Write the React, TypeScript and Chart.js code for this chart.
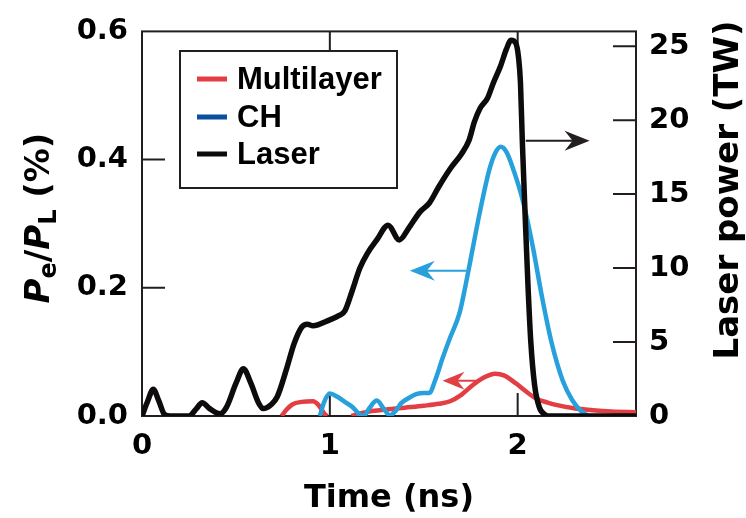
import React, { useEffect, useRef } from 'react';
import { Chart, registerables } from 'chart.js';

Chart.register(...registerables);

// ---- data ----
const laserTime = [0.0, 0.03, 0.06, 0.09, 0.12, 0.15, 0.25, 0.29, 0.32, 0.36, 0.415, 0.45, 0.5, 0.54, 0.58, 0.62, 0.645, 0.69, 0.72, 0.77, 0.81, 0.85, 0.88, 0.91, 1.0, 1.05, 1.08, 1.12, 1.16, 1.2, 1.25, 1.31, 1.37, 1.42, 1.48, 1.53, 1.58, 1.64, 1.7, 1.74, 1.77, 1.8, 1.84, 1.87, 1.91, 1.94, 1.965, 1.99, 2.005, 2.015, 2.025, 2.04, 2.055, 2.07, 2.09, 2.115, 2.145, 2.17, 2.63];
const laserPower = [0.0, 1.0, 1.8, 1.0, 0.1, 0.0, 0.0, 0.5, 0.9, 0.5, 0.15, 0.6, 2.2, 3.2, 2.2, 0.9, 0.5, 0.8, 1.3, 3.2, 4.9, 6.0, 6.2, 6.1, 6.5, 6.8, 7.1, 8.5, 10.0, 11.0, 11.9, 12.9, 11.9, 12.7, 13.8, 14.4, 15.5, 16.7, 17.7, 18.6, 19.9, 20.8, 21.5, 22.5, 23.7, 24.8, 25.4, 25.2, 24.2, 22.5, 18.5, 13.5, 8.8, 5.0, 2.1, 0.6, 0.1, 0.0, 0.0];

const chTime = [0.947, 0.97, 1.0, 1.04, 1.08, 1.12, 1.16, 1.18, 1.21, 1.25, 1.29, 1.32, 1.35, 1.38, 1.42, 1.46, 1.5, 1.53, 1.56, 1.6, 1.64, 1.69, 1.72, 1.75, 1.8, 1.85, 1.88, 1.91, 1.94, 1.98, 2.03, 2.08, 2.13, 2.18, 2.24, 2.29, 2.34, 2.38];
const chValue = [0.0, 0.022, 0.035, 0.03, 0.022, 0.014, 0.002, 0.0, 0.012, 0.024, 0.01, 0.001, 0.008, 0.02, 0.028, 0.034, 0.036, 0.036, 0.055, 0.09, 0.122, 0.16, 0.2, 0.245, 0.32, 0.385, 0.41, 0.42, 0.412, 0.382, 0.333, 0.265, 0.185, 0.115, 0.055, 0.025, 0.007, 0.0];

const mlTime = [0.743, 0.77, 0.8, 0.85, 0.91, 0.94, 0.97, 0.985, 1.05, 1.115, 1.16, 1.21, 1.3, 1.4, 1.5, 1.58, 1.64, 1.7, 1.76, 1.82, 1.88, 1.93, 1.99, 2.05, 2.1, 2.16, 2.21, 2.3, 2.4, 2.5, 2.63];
const mlValue = [0.0, 0.01, 0.018, 0.022, 0.023, 0.017, 0.004, 0.0, null, 0.0, 0.004, 0.007, 0.01, 0.013, 0.016, 0.019, 0.023, 0.033, 0.048, 0.06, 0.066, 0.063, 0.051, 0.037, 0.027, 0.021, 0.017, 0.012, 0.009, 0.007, 0.006];

const xTicks = [0, 1, 2];
const leftTicks = [0, 0.2, 0.4, 0.6];
const rightTicks = [0, 5, 10, 15, 20, 25];

const legendLabels = ['Multilayer', 'CH', 'Laser'];

// arrows pointing each curve to its axis
const arrowAxis = ['y1', 'y', 'y'];
const arrowFrom = [2.043, 1.728, 1.79];
const arrowTo = [2.383, 1.426, 1.6];
const arrowLevel = [18.6, 0.2265, 0.055];

// ---- styles ----
const RED = '#e23e43';
const BLUE = '#27a0dc';
const LEGEND_BLUE = '#0b4f9f';
const BLACK = '#0d0b0c';
const AXIS = '#231f20';
const legendColors = [RED, LEGEND_BLUE, BLACK];
const arrowColors = [AXIS, BLUE, RED];
const TICK_FONT = 'DejaVu Sans';

function drawArrow(ctx: CanvasRenderingContext2D, x1: number, x2: number, y: number, color: string, len: number, half: number) {
  const dir = x2 > x1 ? 1 : -1;
  ctx.save();
  ctx.strokeStyle = color;
  ctx.fillStyle = color;
  ctx.lineWidth = 2;
  ctx.beginPath();
  ctx.moveTo(x1, y);
  ctx.lineTo(x2 - dir * len * 0.6, y);
  ctx.stroke();
  ctx.beginPath();
  ctx.moveTo(x2, y);
  ctx.lineTo(x2 - dir * len, y - half);
  ctx.lineTo(x2 - dir * len * 0.68, y);
  ctx.lineTo(x2 - dir * len, y + half);
  ctx.closePath();
  ctx.fill();
  ctx.restore();
}

const framePlugin = {
  id: 'frame',
  beforeDatasetsDraw(chart: any) {
    const { ctx, chartArea: a, scales } = chart;
    const T = 23;
    ctx.save();
    ctx.strokeStyle = AXIS;
    ctx.lineWidth = 2;
    ctx.beginPath();
    leftTicks.forEach((v) => {
      if (v > scales.y.min && v < scales.y.max) {
        const y = scales.y.getPixelForValue(v);
        ctx.moveTo(a.left, y);
        ctx.lineTo(a.left + T, y);
      }
    });
    rightTicks.forEach((v) => {
      if (v > scales.y1.min && v < scales.y1.max) {
        const y = scales.y1.getPixelForValue(v);
        ctx.moveTo(a.right, y);
        ctx.lineTo(a.right - T, y);
      }
    });
    xTicks.forEach((v) => {
      if (v > scales.x.min && v < scales.x.max) {
        const x = scales.x.getPixelForValue(v);
        ctx.moveTo(x, a.bottom);
        ctx.lineTo(x, a.bottom - T);
        ctx.moveTo(x, a.top);
        ctx.lineTo(x, a.top + T);
      }
    });
    ctx.stroke();
    ctx.strokeRect(a.left, a.top, a.right - a.left, a.bottom - a.top);
    ctx.restore();
  },
  afterDatasetsDraw(chart: any) {
    const { ctx, scales } = chart;
    // arrows
    arrowFrom.forEach((f, i) => {
      const ys = scales[arrowAxis[i]];
      const y = ys.getPixelForValue(arrowLevel[i]);
      const x1 = scales.x.getPixelForValue(f);
      const x2 = scales.x.getPixelForValue(arrowTo[i]);
      const small = i === 2;
      drawArrow(ctx, x1, x2, y, arrowColors[i], small ? 22 : 25, small ? 9 : 10);
    });

    // legend box
    ctx.save();
    ctx.fillStyle = '#ffffff';
    ctx.fillRect(180, 51, 217, 137);
    ctx.strokeStyle = AXIS;
    ctx.lineWidth = 2;
    ctx.strokeRect(180, 51, 217, 137);
    const rows = [79, 117, 154];
    ctx.font = 'bold 31px "Liberation Sans", Arial, sans-serif';
    ctx.textBaseline = 'middle';
    ctx.textAlign = 'left';
    legendLabels.forEach((lab, i) => {
      ctx.strokeStyle = legendColors[i];
      ctx.lineWidth = 5;
      ctx.beginPath();
      ctx.moveTo(197, rows[i]);
      ctx.lineTo(227, rows[i]);
      ctx.stroke();
      ctx.fillStyle = '#000';
      ctx.fillText(lab, 237, rows[i] + 1);
    });
    ctx.restore();

    // left axis title: Pe/PL (%)
    const segs = [
      { t: 'P', it: true, sub: false },
      { t: 'e', it: false, sub: true },
      { t: '/', it: false, sub: false },
      { t: 'P', it: true, sub: false },
      { t: 'L', it: false, sub: true },
      { t: ' (%)', it: false, sub: false },
    ];
    const fontOf = (s: any) => `${s.it ? 'italic ' : ''}bold ${s.sub ? 24 : 34}px "${TICK_FONT}"`;
    ctx.save();
    ctx.translate(49, 218);
    ctx.rotate(-Math.PI / 2);
    ctx.fillStyle = '#000';
    ctx.textBaseline = 'alphabetic';
    ctx.textAlign = 'left';
    let total = 0;
    segs.forEach((s) => {
      ctx.font = fontOf(s);
      total += ctx.measureText(s.t).width;
    });
    let u = -total / 2;
    segs.forEach((s) => {
      ctx.font = fontOf(s);
      ctx.fillText(s.t, u, s.sub ? 7 : 0);
      u += ctx.measureText(s.t).width;
    });
    ctx.restore();

    // right axis title
    ctx.save();
    ctx.translate(738, 190);
    ctx.rotate(-Math.PI / 2);
    ctx.fillStyle = '#000';
    ctx.font = `bold 34px "${TICK_FONT}"`;
    ctx.textAlign = 'center';
    ctx.textBaseline = 'alphabetic';
    ctx.fillText('Laser power (TW)', 0, 0);
    ctx.restore();
  },
};

export default function App() {
  const ref = useRef<HTMLCanvasElement | null>(null);
  useEffect(() => {
    document.body.style.margin = '0';
    const canvas = ref.current;
    if (!canvas) return;
    const tickFont = { family: TICK_FONT, size: 29, weight: 'bold' as const };
    const chart = new Chart(canvas, {
      type: 'line',
      data: {
        datasets: [
          {
            label: 'Laser',
            data: laserTime.map((t, i) => ({ x: t, y: laserPower[i] })),
            yAxisID: 'y1',
            borderColor: BLACK,
            borderWidth: 5.5,
            pointRadius: 0,
            cubicInterpolationMode: 'monotone',
            fill: false,
          },
          {
            label: 'CH',
            data: chTime.map((t, i) => ({ x: t, y: chValue[i] })),
            yAxisID: 'y',
            borderColor: BLUE,
            borderWidth: 4.5,
            pointRadius: 0,
            cubicInterpolationMode: 'monotone',
            fill: false,
          },
          {
            label: 'Multilayer',
            data: mlTime.map((t, i) => ({ x: t, y: mlValue[i] as any })),
            yAxisID: 'y',
            borderColor: RED,
            borderWidth: 4.5,
            pointRadius: 0,
            cubicInterpolationMode: 'monotone',
            spanGaps: false,
            fill: false,
          },
        ],
      },
      options: {
        responsive: false,
        animation: false,
        devicePixelRatio: 1,
        layout: { padding: { top: 23, left: 0, right: 0, bottom: 0 } },
        plugins: { legend: { display: false }, tooltip: { enabled: false } },
        scales: {
          x: {
            type: 'linear',
            min: 0,
            max: 2.63,
            grid: { display: false, drawTicks: false },
            border: { display: false },
            ticks: { font: tickFont, color: '#000', padding: 13, maxRotation: 0, autoSkip: false, callback: (v: any) => String(v) },
            afterBuildTicks: (s: any) => { s.ticks = xTicks.map((v) => ({ value: v })); },
            afterFit: (s: any) => { s.height = 102; },
            title: { display: true, text: 'Time (ns)', color: '#000', font: { family: TICK_FONT, size: 32, weight: 'bold' }, padding: { top: 0, bottom: 0 } },
          },
          y: {
            type: 'linear',
            position: 'left',
            min: 0,
            max: 0.6,
            grid: { display: false, drawTicks: false },
            border: { display: false },
            ticks: { font: tickFont, color: '#000', padding: 14, callback: (v: any) => Number(v).toFixed(1) },
            afterBuildTicks: (s: any) => { s.ticks = leftTicks.map((v) => ({ value: v })); },
            afterFit: (s: any) => { s.width = 142; },
          },
          y1: {
            type: 'linear',
            position: 'right',
            min: 0,
            max: 26,
            grid: { display: false, drawTicks: false },
            border: { display: false },
            ticks: { font: tickFont, color: '#000', padding: 13, callback: (v: any) => String(v) },
            afterBuildTicks: (s: any) => { s.ticks = rightTicks.map((v) => ({ value: v })); },
            afterFit: (s: any) => { s.width = 110; },
          },
        },
      },
      plugins: [framePlugin],
    } as any);
    return () => chart.destroy();
  }, []);
  return (
    <div style={{ position: 'absolute', left: 0, top: 0, width: 746, height: 518, background: '#fff' }}>
      <canvas ref={ref} width={746} height={518} style={{ display: 'block' }} />
    </div>
  );
}
